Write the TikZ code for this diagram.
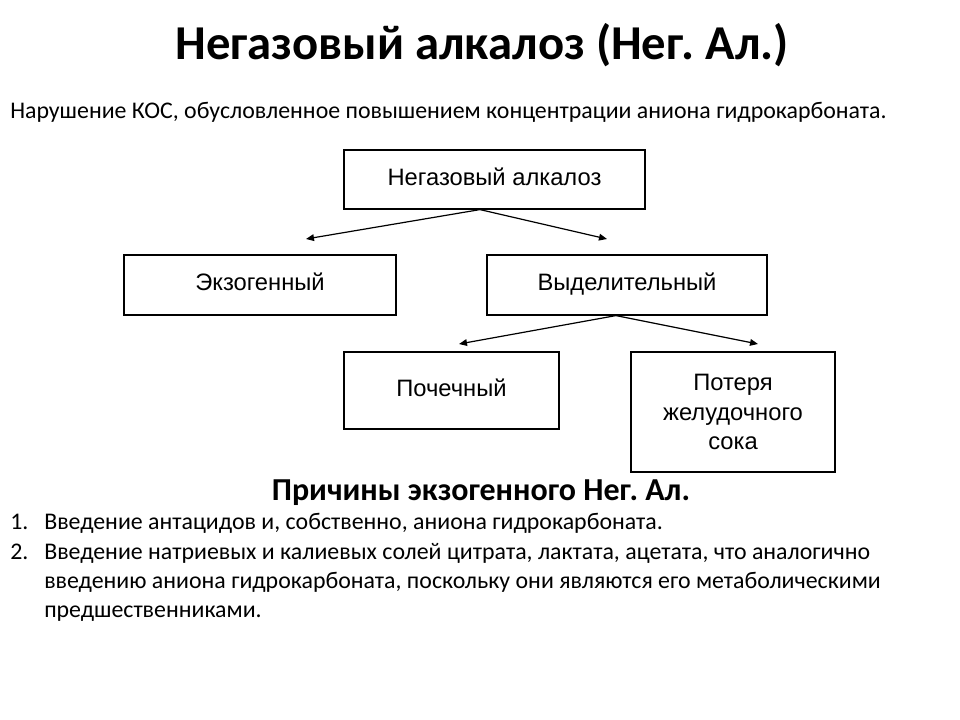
\documentclass[tikz,border=0pt]{standalone}
\usepackage{fontspec}
\setmainfont{Carlito}
\newfontfamily\boxfont{Liberation Sans}
\usetikzlibrary{arrows.meta}
\frenchspacing

\begin{document}
\begin{tikzpicture}[x=0.75pt, y=-0.75pt,
		blk/.style={draw, line width=0.9pt, font=\boxfont\fontsize{17.8}{21.8}\selectfont, align=center, inner sep=0pt},
		one/.style={text height=13pt, text depth=4pt},
		arr/.style={line width=0.9pt, -{Triangle[length=6pt, width=5pt]}},
		txt/.style={anchor=base west, inner sep=0pt, font=\fontsize{17.9}{22}\selectfont}]
	\useasboundingbox (0,0) rectangle (960,720);

	\node[font=\bfseries\fontsize{36.5}{40}\selectfont] (title) at (482,45) {Негазовый алкалоз (Нег. Ал.)};
	\node[txt] (def) at (10,119) {Нарушение КОС, обусловленное повышением концентрации аниона гидрокарбоната.};

	\node[blk, one, minimum width=301*0.75pt, minimum height=59*0.75pt] (neg) at (494.5,179.5) {Негазовый алкалоз};
	\node[blk, one, minimum width=272*0.75pt, minimum height=60*0.75pt] (exo) at (260,285) {Экзогенный};
	\node[blk, one, minimum width=280*0.75pt, minimum height=60*0.75pt] (vyd) at (627,285) {Выделительный};
	\node[blk, one, minimum width=215*0.75pt, minimum height=77*0.75pt] (poch) at (451.5,390.5) {Почечный};
	\node[blk, minimum width=204*0.75pt, minimum height=120*0.75pt] (zhel) at (733,412) {Потеря\\желудочного\\сока};

	\coordinate (t1) at (306,239);
	\coordinate (t2) at (607,239);
	\coordinate (t3) at (459,344);
	\coordinate (t4) at (758,344);
	\draw[arr] ([xshift=-10.9pt]neg.south) -- (t1);
	\draw[arr] ([xshift=-10.9pt]neg.south) -- (t2);
	\draw[arr] ([xshift=-8.3pt]vyd.south) -- (t3);
	\draw[arr] ([xshift=-8.3pt]vyd.south) -- (t4);

	\node[font=\bfseries\fontsize{24}{28}\selectfont] (head) at (481,493) {Причины экзогенного Нег. Ал.};
	\node[txt] (n1) at (10,529) {1.};
	\node[txt] (l1) at (44,529) {Введение антацидов и, собственно, аниона гидрокарбоната.};
	\node[txt] (n2) at (10,559) {2.};
	\node[txt] (l2) at (44,559) {Введение натриевых и калиевых солей цитрата, лактата, ацетата, что аналогично};
	\node[txt] (l3) at (44,588) {введению аниона гидрокарбоната, поскольку они являются его метаболическими};
	\node[txt] (l4) at (44,617) {предшественниками.};
\end{tikzpicture}
\end{document}
